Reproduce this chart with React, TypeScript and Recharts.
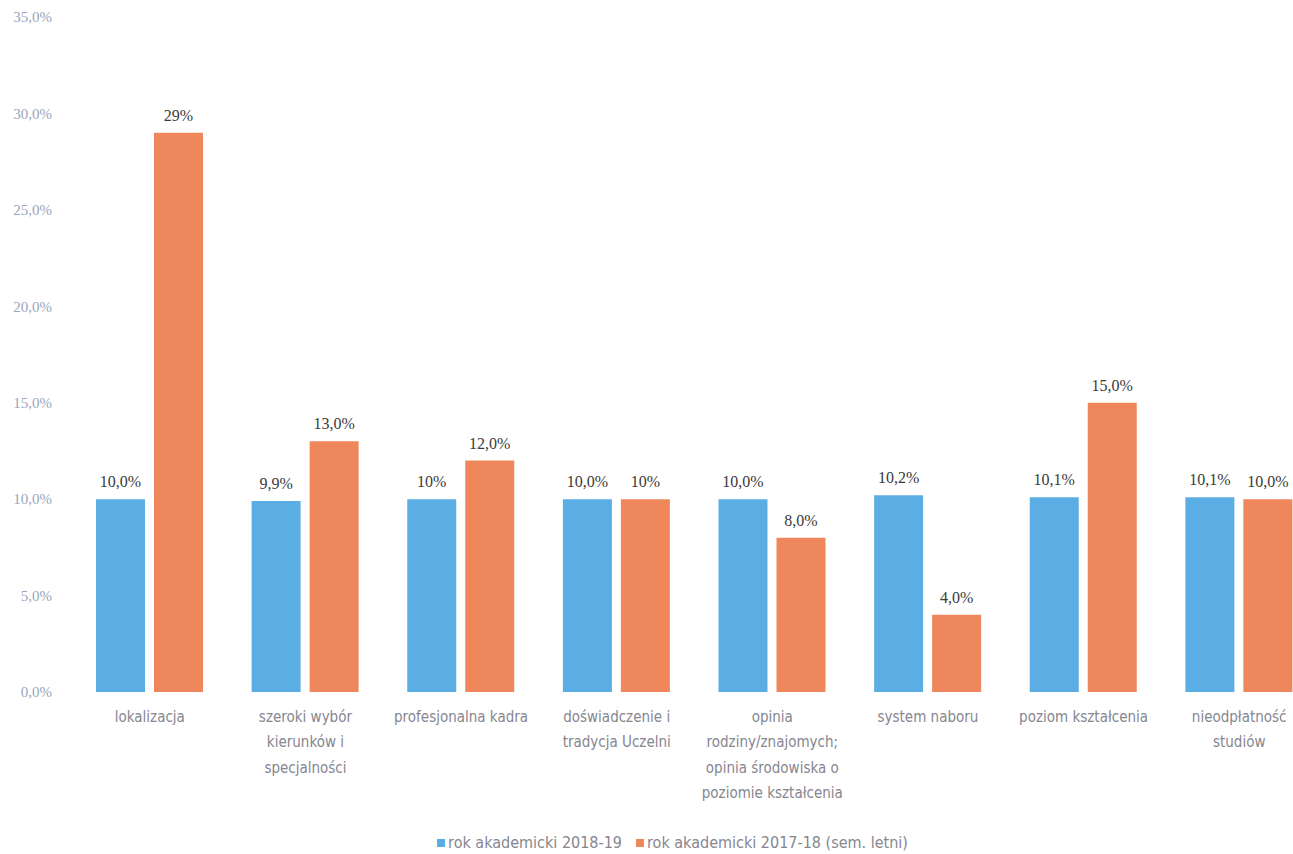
import React from 'react';
import { BarChart, Bar, XAxis, YAxis, Legend, LabelList } from 'recharts';

const categories = [
  'lokalizacja',
  'szeroki wybór\nkierunków i\nspecjalności',
  'profesjonalna kadra',
  'doświadczenie i\ntradycja Uczelni',
  'opinia\nrodziny/znajomych;\nopinia środowiska o\npoziomie kształcenia',
  'system naboru',
  'poziom kształcenia',
  'nieodpłatność\nstudiów',
];

const year2018 = [10.0, 9.9, 10.0, 10.0, 10.0, 10.2, 10.1, 10.1];
const year2017 = [29, 13, 12, 10, 8, 4, 15, 10];

const labels2018 = ['10,0%', '9,9%', '10%', '10,0%', '10,0%', '10,2%', '10,1%', '10,1%'];
const labels2017 = ['29%', '13,0%', '12,0%', '10%', '8,0%', '4,0%', '15,0%', '10,0%'];

const yTicks = [0, 5, 10, 15, 20, 25, 30, 35];

const seriesNames = ['rok akademicki 2018-19', 'rok akademicki 2017-18 (sem. letni)'];
const seriesColors = ['#5BAEE3', '#EE875B'];

const data = categories.map((name, i) => ({
  name,
  a: year2018[i],
  b: year2017[i],
  la: labels2018[i],
  lb: labels2017[i],
}));

const labelFont = "'Liberation Sans Narrow', 'DejaVu Sans Condensed', 'Liberation Sans', sans-serif";

const CategoryTick = (props: any) => {
  const { x, y, payload } = props;
  const lines = String(payload.value).split('\n');
  return (
    <text x={x} y={y} textAnchor="middle" fill="#86868f" fontSize={15} fontFamily={labelFont}>
      {lines.map((line, i) => (
        <tspan key={i} x={x} dy={i === 0 ? 22 : 25.3}>
          {line}
        </tspan>
      ))}
    </text>
  );
};

const LegendContent = () => (
  <div style={{ display: 'flex', justifyContent: 'center', gap: 14, fontSize: 16, fontFamily: labelFont, color: '#86868f' }}>
    {seriesNames.map((n, i) => (
      <span key={n} style={{ display: 'inline-flex', alignItems: 'center' }}>
        <span style={{ width: 8, height: 8, background: seriesColors[i], marginRight: 3, display: 'inline-block' }} />
        {n}
      </span>
    ))}
  </div>
);

const App = () => {
  return (
    <div style={{ position: 'absolute', left: 0, top: 0, width: 1293, height: 854, overflow: 'hidden', background: '#fff' }}>
      <BarChart
        width={1317}
        height={854}
        data={data}
        margin={{ top: 17, right: 0, left: 10, bottom: 113 }}
        barSize={49}
        barGap={9}
      >
        <XAxis
          dataKey="name"
          axisLine={false}
          tickLine={false}
          interval={0}
          height={30}
          tick={<CategoryTick />}
        />
        <YAxis
          width={62}
          domain={[0, 35]}
          ticks={yTicks}
          axisLine={false}
          tickLine={false}
          tickSize={0}
          tickMargin={20}
          tickFormatter={(v: number) => v.toFixed(1).replace('.', ',') + '%'}
          tick={{ fill: '#9aa4bb', fontSize: 15, fontFamily: "'Liberation Serif', serif" }}
        />
        <Legend
          verticalAlign="bottom"
          align="center"
          content={<LegendContent />}
          wrapperStyle={{ bottom: 2, left: 26, width: 1293 }}
        />
        <Bar dataKey="a" name={seriesNames[0]} fill={seriesColors[0]} isAnimationActive={false}>
          <LabelList dataKey="la" position="top" offset={12} fill="#3a3a3a" fontSize={16} fontFamily="'Liberation Serif', serif" />
        </Bar>
        <Bar dataKey="b" name={seriesNames[1]} fill={seriesColors[1]} isAnimationActive={false}>
          <LabelList dataKey="lb" position="top" offset={12} fill="#3a3a3a" fontSize={16} fontFamily="'Liberation Serif', serif" />
        </Bar>
      </BarChart>
    </div>
  );
};

export default App;
